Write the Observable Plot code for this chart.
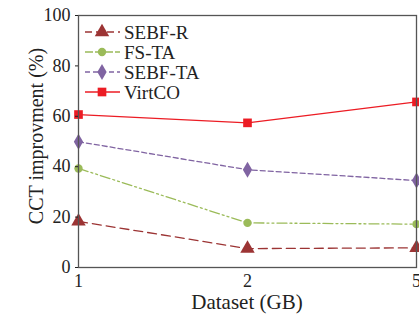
<!DOCTYPE html>
<html><head><meta charset="utf-8">
<script src="https://cdn.jsdelivr.net/npm/d3@7"></script>
<script src="https://cdn.jsdelivr.net/npm/@observablehq/plot@0.6"></script>
<style>
body{margin:0;background:#fff;}
#chart{position:relative;width:419px;height:322px;}
</style>
</head><body><div id="chart"></div>
<script>
const datasets = ["1", "2", "5"];
const seriesNames = ["SEBF-R", "FS-TA", "SEBF-TA", "VirtCO"];
const sebfR = [18.3, 7.5, 7.8];
const fsTA = [39.3, 17.7, 17.2];
const sebfTA = [49.9, 38.8, 34.5];
const virtCO = [60.7, 57.4, 65.7];
const yTicks = [0, 20, 40, 60, 80, 100];

const colors = ["#9c3434", "#9bbb59", "#8064a2", "#ec1c24"];
const dashes = ["9,5", "10,3,2,3,2,3", "5,3", null];
const legendDashes = ["7,4", "8,2", "5,3", null];
const symbols = ["triangle", "circle", "diamond", "square"];
const symSizes = [90, 55, 75, 75];
const values = [sebfR, fsTA, sebfTA, virtCO];

const rows = [];
seriesNames.forEach((s, i) => datasets.forEach((d, j) => rows.push({series: s, ds: d, v: values[i][j], i})));

const font = "'Liberation Serif', 'Times New Roman', serif";
const marks = [];
seriesNames.forEach((s, i) => {
  const data = rows.filter(r => r.series === s);
  marks.push(Plot.line(data, {x: "ds", y: "v", stroke: colors[i], strokeWidth: 1.3, strokeDasharray: dashes[i]}));
  marks.push(Plot.dot(data, {x: "ds", y: "v", fill: colors[i], stroke: "none", symbol: () => symbols[i], r: Math.sqrt(symSizes[i] / Math.PI)}));
});
marks.push(Plot.frame({stroke: "#555", strokeWidth: 1.3}));
marks.push(Plot.axisY({ticks: yTicks, tickSize: 3, tickPadding: 5, label: null, fontSize: 18}));
marks.push(Plot.axisX({tickSize: 0, tickPadding: 7, label: null, fontSize: 18}));

const plot = Plot.plot({
  width: 419, height: 322,
  marginLeft: 78, marginRight: 3, marginTop: 15, marginBottom: 55,
  style: {fontFamily: font, fontSize: "18px", color: "#222", background: "#fff", overflow: "visible"},
  x: {type: "point", domain: datasets, padding: 0},
  y: {domain: [0, 100]},
  marks
});
document.getElementById("chart").appendChild(plot);

const svg = d3.select(plot);
svg.append("text").attr("x", 247).attr("y", 309).attr("text-anchor", "middle")
  .attr("font-family", font).attr("font-size", 21).attr("fill", "#222").text("Dataset (GB)");
svg.append("text").attr("transform", "translate(43,136) rotate(-90)").attr("text-anchor", "middle")
  .attr("font-family", font).attr("font-size", 20).attr("fill", "#222").text("CCT improvment (%)");

const symMap = {triangle: d3.symbolTriangle, circle: d3.symbolCircle, diamond: d3.symbolDiamond, square: d3.symbolSquare};
const leg = svg.append("g");
seriesNames.forEach((s, i) => {
  const y = 32 + i * 20;
  leg.append("line").attr("x1", 85).attr("x2", 120).attr("y1", y).attr("y2", y)
    .attr("stroke", colors[i]).attr("stroke-width", 1.3).attr("stroke-dasharray", legendDashes[i]);
  leg.append("path").attr("transform", `translate(102,${y})`).attr("d", d3.symbol(symMap[symbols[i]], symSizes[i])()).attr("fill", colors[i]);
  leg.append("text").attr("x", 124).attr("y", y).attr("dy", "0.35em").attr("text-anchor", "start")
    .attr("font-family", font).attr("font-size", 19).attr("fill", "#222").text(s);
});
</script></body></html>
